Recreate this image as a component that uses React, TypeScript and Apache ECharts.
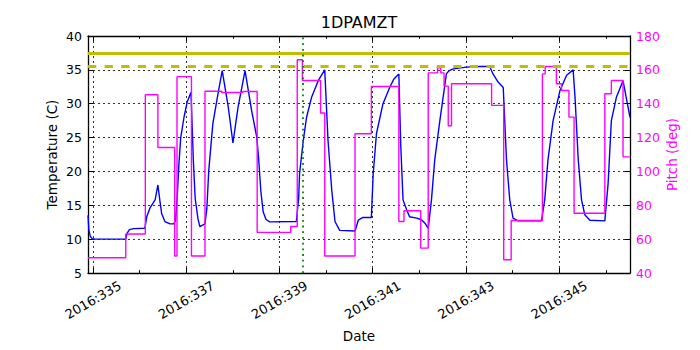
import React, { useEffect, useRef } from "react";
import * as echarts from "echarts";

// Temperature (1DPAMZT), day of year 2016
const tempDays = [
  334.89, 334.91, 334.94, 334.98, 335.05, 335.70, 335.73, 335.78, 335.87, 336.11,
  336.15, 336.22, 336.33, 336.39, 336.43, 336.47, 336.54, 336.65, 336.73, 336.77,
  336.81, 336.84, 336.88, 336.95, 337.02, 337.10, 337.15, 337.19, 337.25, 337.29,
  337.40, 337.44, 337.48, 337.53, 337.57, 337.68, 337.77, 337.90, 338.00, 338.11,
  338.26, 338.40, 338.51, 338.545, 338.60, 338.65, 338.71, 338.79, 339.36, 339.41,
  339.43, 339.51, 339.58, 339.69, 339.83, 339.97, 340.04, 340.12, 340.19, 340.29,
  340.62, 340.69, 340.79, 340.97, 341.01, 341.08, 341.22, 341.37, 341.45, 341.56,
  341.60, 341.65, 341.73, 341.79, 341.94, 342.04, 342.12, 342.19, 342.26, 342.33,
  342.44, 342.58, 342.64, 342.73, 343.01, 343.30, 343.51, 343.58, 343.69, 343.80,
  343.87, 343.94, 344.01, 344.12, 344.62, 344.69, 344.76, 344.87, 345.02, 345.16,
  345.30, 345.34, 345.41, 345.48, 345.55, 345.66, 345.98, 346.05, 346.12, 346.23,
  346.37, 346.52,
];
const tempValues = [
  13.5, 11.3, 10.4, 10.05, 10.0, 10.0, 10.9, 11.4, 11.55, 11.6,
  13.3, 14.6, 15.8, 18.0, 15.8, 13.8, 12.6, 12.25, 12.25, 12.8,
  17.0, 21.0, 25.0, 28.0, 30.3, 31.7, 21.7, 16.0, 13.0, 11.85,
  12.25, 14.5, 20.0, 24.0, 27.1, 31.5, 34.9, 29.5, 24.2, 29.5,
  34.9, 29.0, 25.1, 22.5, 17.0, 14.0, 12.9, 12.55, 12.6, 16.0,
  19.7, 24.6, 28.0, 31.0, 33.4, 35.0, 24.6, 17.25, 12.6, 11.3,
  11.2, 12.8, 13.2, 13.2, 19.7, 25.6, 30.0, 32.5, 33.6, 34.4,
  24.0, 15.8, 14.3, 13.3, 13.1, 12.9, 12.35, 11.6, 15.8, 21.7,
  27.5, 34.4, 34.9, 35.15, 35.4, 35.5, 35.5, 34.4, 33.2, 32.4,
  21.7, 15.8, 13.1, 12.7, 12.7, 15.8, 21.7, 27.5, 32.0, 34.2,
  35.0, 31.0, 21.7, 15.8, 13.6, 12.8, 12.7, 18.2, 27.5, 31.0,
  33.4, 28.0,
];

// Pitch (deg): each value holds from its day until the next day
const pitchDays = [
  334.89, 335.70, 336.12, 336.39, 336.75, 336.80, 337.11, 337.40, 337.76, 338.21,
  338.52, 339.24, 339.38, 339.49, 339.88, 339.97, 340.62, 340.97, 341.56, 341.67,
  342.03, 342.19, 342.39, 342.46, 342.53, 342.62, 342.69, 343.55, 343.81, 343.97,
  344.64, 344.70, 344.94, 345.05, 345.21, 345.32, 345.98, 346.12, 346.37, 346.52,
];
const pitchValues = [
  49, 63, 145.3, 114.1, 50, 156, 50, 147.4, 146.6, 147.2,
  64, 67.5, 166, 153.7, 134.5, 50, 122.3, 150.2, 70.4, 76.8,
  54.7, 158.2, 161.2, 158.2, 150.4, 127, 151.8, 139, 47.8, 71,
  157.6, 162, 151.8, 147.8, 132.1, 75.3, 145.9, 153.7, 108.6, 108.6,
];

const majorDays = [335, 337, 339, 341, 343, 345];
const minorDays = [336, 338, 340, 342, 344, 346];
const xMin = 334.89;
const xMax = 346.52;
const solidLimit = 37.5;
const dashedLimit = 35.5;
const markerDay = 339.49;
const chartTitle = "1DPAMZT";

export default function App() {
  const ref = useRef<HTMLDivElement>(null);
  useEffect(() => {
    const chart = echarts.init(ref.current!, null, { renderer: "svg" });
    const font = "DejaVu Sans";
    const black = "#000000";
    const magenta = "#ff00ff";
    const olive = "#bfbf00";

    const xAxisDef = (position: string, ticks: number[], len: number, main: boolean, line: boolean) => ({
      type: "value",
      gridIndex: 0,
      position,
      min: xMin,
      max: xMax,
      axisLine: { show: line, onZero: false, lineStyle: { color: black, width: 1.3 } },
      axisTick: { show: true, inside: true, length: len, customValues: ticks, lineStyle: { color: black, width: 1 } },
      axisLabel: main
        ? {
            show: true,
            customValues: majorDays,
            rotate: 30,
            align: "center",
            verticalAlign: "middle",
            margin: 27,
            fontSize: 13,
            fontFamily: font,
            color: black,
            formatter: (v: number) => "2016:" + Math.round(v),
          }
        : { show: false },
      splitLine: main
        ? { show: true, lineStyle: { color: black, width: 0.8, type: [2, 3] } }
        : { show: false },
      name: main ? "Date" : "",
      nameLocation: "middle",
      nameGap: 56,
      nameMoveOverlap: false,
      nameTextStyle: { fontSize: 13.5, fontFamily: font, color: black },
    });

    const option: any = {
      animation: false,
      textStyle: { fontFamily: font },
      grid: { left: 88, right: 70, top: 36, bottom: 77, containLabel: false, outerBoundsMode: "none" },
      graphic: [
        {
          type: "text",
          x: 359,
          y: 22,
          style: {
            text: chartTitle,
            fontSize: 16,
            fontFamily: font,
            fill: black,
            align: "center",
            verticalAlign: "middle",
          },
        },
      ],
      xAxis: [
        xAxisDef("bottom", majorDays, 5, true, true),
        xAxisDef("bottom", minorDays, 2.8, false, false),
        xAxisDef("top", majorDays, 5, false, true),
        xAxisDef("top", minorDays, 2.8, false, false),
      ],
      yAxis: [
        {
          type: "value",
          position: "left",
          min: 5,
          max: 40,
          interval: 5,
          axisLine: { show: true, onZero: false, lineStyle: { color: black, width: 1.3 } },
          axisTick: { show: true, inside: true, length: 5, lineStyle: { color: black } },
          axisLabel: { fontSize: 12.5, fontFamily: font, color: black, margin: 6 },
          splitLine: { show: true, lineStyle: { color: black, width: 0.8, type: [2, 3] } },
          name: "Temperature (C)",
          nameLocation: "middle",
          nameGap: 29,
          nameMoveOverlap: false,
          nameTextStyle: { fontSize: 13.5, fontFamily: font, color: black },
        },
        {
          type: "value",
          position: "right",
          min: 40,
          max: 180,
          interval: 20,
          axisLine: { show: true, onZero: false, lineStyle: { color: black, width: 1.3 } },
          axisTick: { show: true, inside: true, length: 5, lineStyle: { color: black } },
          axisLabel: { fontSize: 12.5, fontFamily: font, color: magenta, margin: 6 },
          splitLine: { show: false },
          name: "Pitch (deg)",
          nameLocation: "middle",
          nameGap: 35,
          nameMoveOverlap: false,
          nameTextStyle: { fontSize: 13.5, fontFamily: font, color: magenta },
        },
      ],
      series: [
        {
          name: "Temperature",
          type: "line",
          xAxisIndex: 0,
          yAxisIndex: 0,
          data: tempDays.map((d, i) => [d, tempValues[i]]),
          showSymbol: false,
          symbol: "none",
          lineStyle: { color: "#0000ff", width: 1.4 },
          z: 2,
        },
        {
          name: "Pitch",
          type: "line",
          xAxisIndex: 0,
          yAxisIndex: 1,
          step: "end",
          data: pitchDays.map((d, i) => [d, pitchValues[i]]),
          showSymbol: false,
          symbol: "none",
          lineStyle: { color: magenta, width: 1.4 },
          z: 3,
        },
        {
          name: "Limits",
          type: "line",
          xAxisIndex: 0,
          yAxisIndex: 0,
          data: [],
          z: 4,
          markLine: {
            silent: true,
            symbol: ["none", "none"],
            label: { show: false },
            animation: false,
            data: [
              { yAxis: solidLimit, lineStyle: { color: olive, width: 3, type: "solid" } },
              { yAxis: dashedLimit, lineStyle: { color: olive, width: 3, type: [8.3, 8.3] } },
              { xAxis: markerDay, lineStyle: { color: "#008000", width: 1.8, type: [1.8, 3.9] } },
            ],
          },
        },
      ],
    };
    chart.setOption(option);
    return () => chart.dispose();
  }, []);
  return (
    <div
      ref={ref}
      style={{ position: "absolute", left: 0, top: 0, width: 700, height: 350, background: "#ffffff" }}
    />
  );
}
